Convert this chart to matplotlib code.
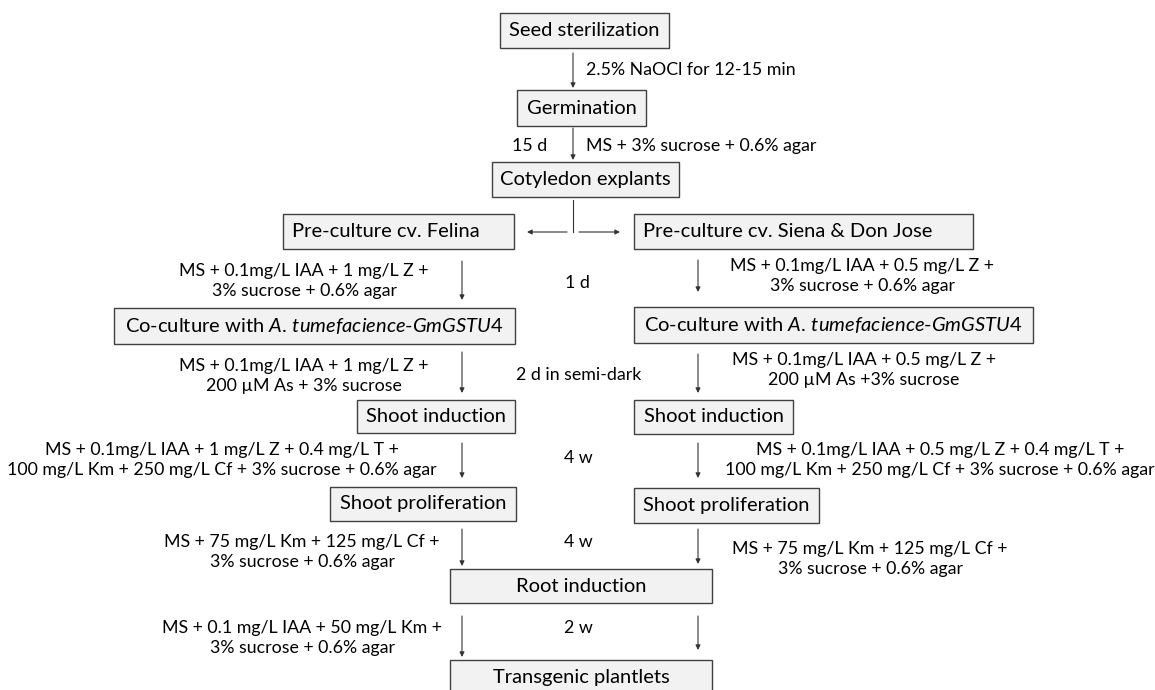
import matplotlib
matplotlib.use("Agg")
import matplotlib.pyplot as plt
from matplotlib.patches import Rectangle

plt.rcParams['font.family'] = ['Lato', 'DejaVu Sans']
plt.rcParams['mathtext.fontset'] = 'custom'
plt.rcParams['mathtext.rm'] = 'Lato'
plt.rcParams['mathtext.it'] = 'Lato:italic'

# step names (boxes)
box_labels = ['Seed sterilization', 'Germination', 'Cotyledon explants',
              'Pre-culture cv. Felina', 'Pre-culture cv. Siena & Don Jose',
              'Co-culture with $A.\\,tumefacience$-$GmGSTU$4',
              'Co-culture with $A.\\,tumefacience$-$GmGSTU$4',
              'Shoot induction', 'Shoot induction',
              'Shoot proliferation', 'Shoot proliferation',
              'Root induction', 'Transgenic plantlets']

# media / conditions
top_labels = ['2.5% NaOCl for 12-15 min', 'MS + 3% sucrose + 0.6% agar']
left_media = ['MS + 0.1mg/L IAA + 1 mg/L Z +\n3% sucrose + 0.6% agar',
              'MS + 0.1mg/L IAA + 1 mg/L Z +\n200 µM As + 3% sucrose',
              'MS + 0.1mg/L IAA + 1 mg/L Z + 0.4 mg/L T +\n100 mg/L Km + 250 mg/L Cf + 3% sucrose + 0.6% agar',
              'MS + 75 mg/L Km + 125 mg/L Cf +\n3% sucrose + 0.6% agar',
              'MS + 0.1 mg/L IAA + 50 mg/L Km +\n3% sucrose + 0.6% agar']
right_media = ['MS + 0.1mg/L IAA + 0.5 mg/L Z +\n3% sucrose + 0.6% agar',
               'MS + 0.1mg/L IAA + 0.5 mg/L Z +\n200 µM As +3% sucrose',
               'MS + 0.1mg/L IAA + 0.5 mg/L Z + 0.4 mg/L T +\n100 mg/L Km + 250 mg/L Cf + 3% sucrose + 0.6% agar',
               'MS + 75 mg/L Km + 125 mg/L Cf +\n3% sucrose + 0.6% agar']
durations = ['15 d', '1 d', '2 d in semi-dark', '4 w', '4 w', '2 w']

# layout in pixels (x0, x1, y0, y1)
box_pos = [(500, 669, 13, 48), (517, 646, 90, 126), (492, 679, 162, 197),
           (283, 514, 214, 249), (634, 973, 214, 249),
           (114, 515, 308, 344), (634, 1033, 307, 343),
           (357, 515, 400, 433), (634, 793, 400, 434),
           (330, 516, 487, 521), (634, 819, 488, 523),
           (450, 712, 569, 603), (450, 712, 660, 705)]
box_left_aligned = [3, 4]
top_label_pos = [(586, 70), (586, 146)]
left_media_pos = [(304, 281), (304, 376), (222, 460), (302, 552), (302, 638)]
right_media_pos = [(862, 276), (864, 370), (940, 460), (870, 559)]
duration_pos = [(530, 146), (577, 283), (579, 375), (578, 458), (578, 542), (578, 628)]

down_arrows = [(573, 53, 88), (573, 128, 160),
               (462, 261, 300), (462, 352, 393), (462, 443, 478), (462, 529, 566), (462, 616, 657),
               (698, 260, 292), (698, 354, 393), (698, 443, 478), (698, 529, 564), (698, 616, 650)]
side_arrows = [(567, 527, 232), (579, 620, 232)]

fs_box = 14.5
fs = 12.8
edge = '#404040'
fill = '#f2f2f2'

fig = plt.figure(figsize=(11.55, 6.9), dpi=100)
ax = fig.add_axes([0, 0, 1, 1])
ax.set_xlim(0, 1155)
ax.set_ylim(690, 0)
ax.axis('off')

for i, lab in enumerate(box_labels):
    x0, x1, y0, y1 = box_pos[i]
    ax.add_patch(Rectangle((x0, y0), x1 - x0, y1 - y0, facecolor=fill, edgecolor=edge, lw=1.0))
    if i in box_left_aligned:
        ax.text(x0 + 9, (y0 + y1) / 2, lab, ha='left', va='center', fontsize=fs_box)
    else:
        ax.text((x0 + x1) / 2, min((y0 + y1) / 2, 677), lab, ha='center', va='center', fontsize=fs_box)

for lab, (x, y) in zip(top_labels, top_label_pos):
    ax.text(x, y, lab, ha='left', va='center', fontsize=fs)
for lab, (x, y) in zip(left_media, left_media_pos):
    ax.text(x, y, lab, ha='center', va='center', fontsize=fs, linespacing=1.3)
for lab, (x, y) in zip(right_media, right_media_pos):
    ax.text(x, y, lab, ha='center', va='center', fontsize=fs, linespacing=1.3)
for lab, (x, y) in zip(durations, duration_pos):
    ax.text(x, y, lab, ha='center', va='center', fontsize=fs)

aprops = dict(arrowstyle='-|>', color='#333333', lw=0.8, mutation_scale=7, shrinkA=0, shrinkB=0)
for x, ya, yb in down_arrows:
    ax.annotate('', xy=(x, yb), xytext=(x, ya), arrowprops=aprops)
ax.plot([573, 573], [200, 232], color='#333333', lw=0.8)
for xa, xb, y in side_arrows:
    ax.annotate('', xy=(xb, y), xytext=(xa, y), arrowprops=aprops)

fig.savefig('out.png', dpi=100, facecolor='white')
